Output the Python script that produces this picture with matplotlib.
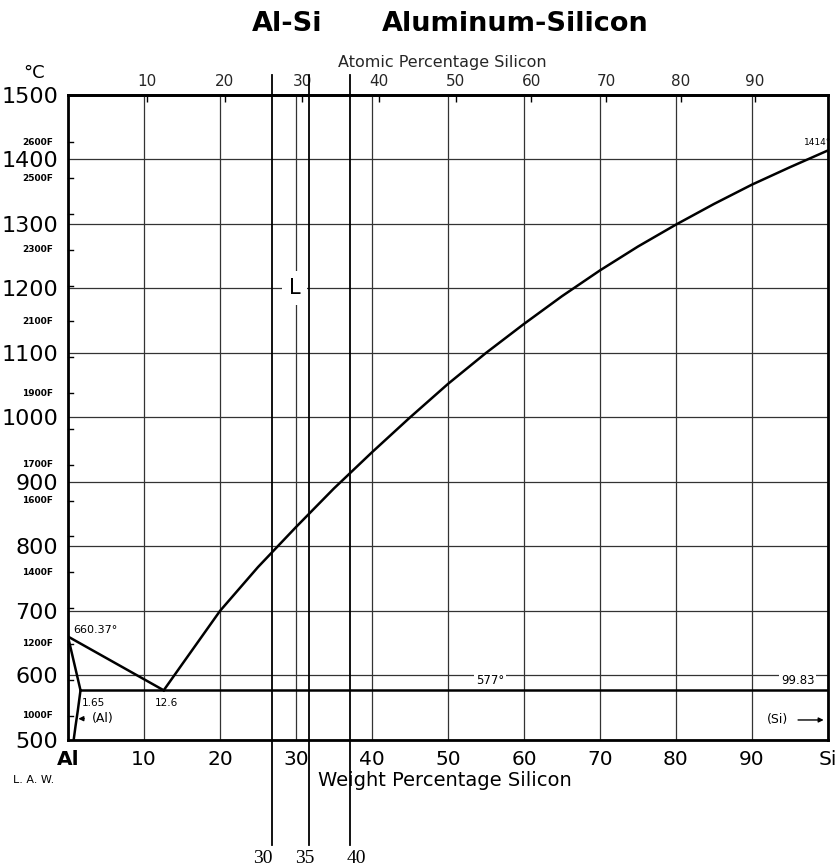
import numpy as np
import matplotlib.pyplot as plt
from matplotlib.transforms import offset_copy

# Al-Si phase diagram (wt% Si vs temperature in degC)
M_AL = 26.98
M_SI = 28.086

liquidus_wt = [12.6, 15, 20, 25, 30, 35, 40, 45, 50, 55, 60, 65, 70, 75, 80, 85, 90, 95, 100]
liquidus_T = [577, 617, 700, 768, 830, 890, 946, 1000, 1052, 1100, 1145, 1188, 1228, 1265, 1299, 1331, 1361, 1388, 1414]

al_liquidus_wt = [0, 12.6]
al_liquidus_T = [660.37, 577]

solidus_wt = [0, 1.65]
solidus_T = [660.37, 577]

solvus_wt = [1.65, 1.3, 1.0, 0.75]
solvus_T = [577, 546, 522, 500]

eutectic_wt = [1.65, 99.83]
eutectic_T = 577

wt_ticks = [0, 10, 20, 30, 40, 50, 60, 70, 80, 90, 100]
wt_labels = ['Al', '10', '20', '30', '40', '50', '60', '70', '80', '90', 'Si']
at_ticks = [10, 20, 30, 40, 50, 60, 70, 80, 90]
c_ticks = [500, 600, 700, 800, 900, 1000, 1100, 1200, 1300, 1400, 1500]
f_ticks = list(range(1000, 2700, 100))
f_labeled = [1000, 1200, 1400, 1600, 1700, 1900, 2100, 2300, 2500, 2600]

overlay_wt = [26.8, 31.7, 37.1]
overlay_labels = ['30', '35', '40']
overlay_dx = [-6, -3, 5]   # label nudge, points


def wt_to_at(w):
    w = np.asarray(w, dtype=float)
    a = w / M_SI
    b = (100 - w) / M_AL
    return 100 * a / np.where(a + b == 0, 1, a + b)


def at_to_wt(a):
    a = np.asarray(a, dtype=float)
    s = a * M_SI
    t = (100 - a) * M_AL
    return 100 * s / np.where(s + t == 0, 1, s + t)


def f_to_c(f):
    return (f - 32) * 5 / 9


plt.rcParams['font.family'] = ['DejaVu Sans']

fig = plt.figure(figsize=(8.37, 8.68), dpi=100)
ax = fig.add_axes([0.0812, 0.1475, 0.9080, 0.7431])
ax.set_xlim(0, 100)
ax.set_ylim(500, 1500)

for s in ax.spines.values():
    s.set_linewidth(2)

ax.set_xticks(wt_ticks)
ax.set_xticklabels(wt_labels, fontsize=14.5)
ax.get_xticklabels()[0].set_fontweight('bold')
ax.set_yticks(c_ticks)
ax.set_yticklabels([str(c) for c in c_ticks], fontsize=16)
ax.tick_params(axis='x', length=0, pad=7)
ax.tick_params(axis='y', length=0, pad=7)
ax.grid(True, color='0.2', lw=0.9)
ax.set_axisbelow(True)

# top axis in atomic percent
secax = ax.secondary_xaxis('top', functions=(wt_to_at, at_to_wt))
secax.set_xticks(at_ticks)
secax.set_xticklabels([str(a) for a in at_ticks], fontsize=11, color='0.15')
secax.tick_params(direction='in', length=5, width=1, pad=4)
secax.spines['top'].set_linewidth(2)

# Fahrenheit ticks and labels on the left
ytrans = ax.get_yaxis_transform()
for f in f_ticks:
    ax.plot([0, 0.006], [f_to_c(f)] * 2, transform=ytrans, color='k', lw=1, clip_on=False)
for f in f_labeled:
    ax.text(-0.02, f_to_c(f), f'{f}F', transform=ytrans, ha='right', va='center',
            fontsize=6.5, fontweight='bold')

# phase boundaries
ax.plot(liquidus_wt, liquidus_T, color='k', lw=1.8)
ax.plot(al_liquidus_wt, al_liquidus_T, color='k', lw=1.8)
ax.plot(solidus_wt, solidus_T, color='k', lw=1.8)
ax.plot(solvus_wt, solvus_T, color='k', lw=1.8)
ax.plot(eutectic_wt, [eutectic_T] * 2, color='k', lw=1.8)

# overlay marker lines running past the frame
for x, lab, dx in zip(overlay_wt, overlay_labels, overlay_dx):
    ax.plot([x, x], [1531, 337], color='k', lw=1.3, clip_on=False)
    tr = offset_copy(ax.transData, fig=fig, x=dx, y=0, units='points')
    ax.text(x, 317, lab, transform=tr, family='Liberation Serif', fontsize=14,
            ha='center', va='center')

bg = dict(facecolor='white', edgecolor='none', pad=1.5)
ax.text(29.8, 1201, 'L', fontsize=15, ha='center', va='center',
        bbox=dict(facecolor='white', edgecolor='none', pad=5))
ax.text(98.6, 1426, '1414°', fontsize=6.5, ha='center', va='center')
ax.text(0.65, 670, '660.37°', fontsize=8, ha='left', va='center')
ax.text(1.85, 557, '1.65', fontsize=7.5, ha='left', va='center')
ax.text(12.9, 557, '12.6', fontsize=7.5, ha='center', va='center')
ax.text(55.5, 592, '577°', fontsize=8.5, ha='center', va='center', bbox=bg)
ax.text(96.0, 592, '99.83', fontsize=8.5, ha='center', va='center', bbox=bg)
ax.text(4.6, 533, '(Al)', fontsize=9, ha='center', va='center')
ax.annotate('', xy=(1.0, 533), xytext=(2.5, 533),
            arrowprops=dict(arrowstyle='-|>', color='k', lw=1, mutation_scale=7))
ax.text(93.4, 531, '(Si)', fontsize=9, ha='center', va='center')
ax.annotate('', xy=(99.8, 531), xytext=(95.7, 531),
            arrowprops=dict(arrowstyle='-|>', color='k', lw=1, mutation_scale=7))

# titles and axis captions
fig.text(287 / 837, 1 - 24 / 868, 'Al-Si', fontsize=19.5, fontweight='bold', ha='center', va='center')
fig.text(515 / 837, 1 - 24 / 868, 'Aluminum-Silicon', fontsize=19.5, fontweight='bold', ha='center', va='center')
fig.text(442 / 837, 1 - 62 / 868, 'Atomic Percentage Silicon', fontsize=11.5, ha='center', va='center', color='0.15')
fig.text(445 / 837, 1 - 780 / 868, 'Weight Percentage Silicon', fontsize=14, ha='center', va='center')
fig.text(34 / 837, 1 - 73 / 868, '°C', fontsize=13, ha='center', va='center')
fig.text(13 / 837, 1 - 780 / 868, 'L. A. W.', fontsize=8, ha='left', va='center')

fig.savefig('out.png', dpi=100)
